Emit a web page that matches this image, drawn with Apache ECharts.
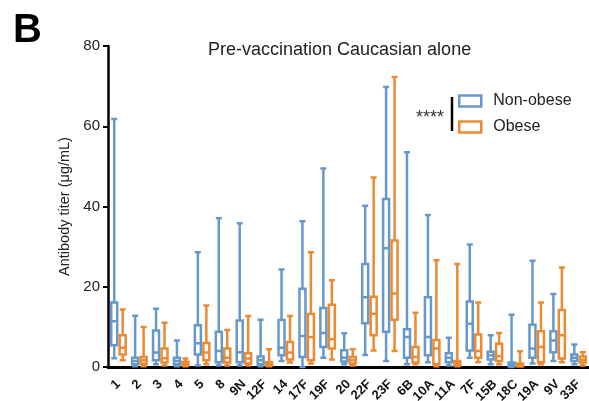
<!DOCTYPE html>
<html>
<head>
<meta charset="utf-8">
<script src="https://cdn.jsdelivr.net/npm/echarts@6/dist/echarts.min.js"></script>
<style>
  html, body { margin: 0; padding: 0; background: #fff; }
  #chart { width: 589px; height: 401px; }
</style>
</head>
<body>
<div id="chart"></div>
<script>
// serotypes on the x axis
var serotypes = ["1", "2", "3", "4", "5", "8", "9N", "12F", "14", "17F", "19F", "20",
  "22F", "23F", "6B", "10A", "11A", "7F", "15B", "18C", "19A", "9V", "33F"];

// [min, Q1, median, Q3, max]
var nonObese = [
  [2.2, 5.4, 11.4, 16.1, 61.8],
  [0.2, 0.7, 1.5, 2.3, 12.8],
  [0.7, 1.7, 3.6, 9.1, 14.5],
  [0.2, 0.7, 1.5, 2.3, 6.6],
  [0.4, 3.1, 5.9, 10.4, 28.6],
  [0.4, 1.2, 4.0, 8.8, 37.1],
  [0.4, 1.2, 3.7, 11.6, 35.8],
  [0.2, 0.7, 1.7, 2.6, 11.8],
  [1.5, 2.9, 4.8, 11.7, 24.3],
  [0.0, 2.5, 7.7, 19.5, 36.3],
  [2.3, 5.0, 8.5, 14.7, 49.5],
  [0.7, 1.4, 2.3, 4.2, 8.4],
  [3.0, 10.9, 17.4, 25.7, 40.2],
  [1.5, 8.8, 29.6, 41.9, 69.8],
  [0.7, 2.3, 7.5, 9.4, 53.5],
  [1.2, 2.9, 7.5, 17.4, 37.9],
  [0.4, 1.2, 2.3, 3.4, 7.3],
  [2.3, 4.1, 10.8, 16.3, 30.5],
  [0.7, 1.9, 2.9, 3.8, 7.9],
  [0.0, 0.2, 0.6, 1.1, 13.0],
  [0.9, 2.3, 4.6, 10.5, 26.5],
  [1.5, 3.7, 6.6, 8.9, 18.2],
  [0.7, 1.5, 2.3, 3.1, 5.6]
];

var obese = [
  [1.7, 3.1, 4.8, 7.9, 14.3],
  [0.2, 0.8, 1.7, 2.5, 10.0],
  [0.4, 1.1, 2.2, 4.6, 11.0],
  [0.2, 0.4, 0.9, 1.3, 2.1],
  [0.7, 1.7, 3.6, 6.0, 15.3],
  [0.4, 1.1, 2.3, 4.6, 9.2],
  [0.4, 0.9, 2.1, 3.4, 12.7],
  [0.2, 0.4, 0.9, 1.2, 4.4],
  [1.1, 1.9, 3.6, 6.2, 12.7],
  [0.9, 1.7, 7.5, 13.2, 28.6],
  [1.9, 4.6, 6.9, 15.5, 21.6],
  [0.4, 0.9, 1.7, 2.5, 4.4],
  [4.1, 7.9, 13.3, 17.5, 47.2],
  [4.0, 11.8, 18.3, 31.5, 72.3],
  [0.7, 1.1, 2.5, 5.0, 13.5],
  [0.2, 0.7, 4.6, 6.7, 26.6],
  [0.2, 0.4, 0.9, 1.5, 25.7],
  [1.2, 2.3, 4.0, 8.1, 16.1],
  [0.7, 1.5, 2.7, 5.8, 8.5],
  [0.1, 0.2, 0.5, 0.9, 3.9],
  [0.7, 1.2, 5.0, 8.9, 16.1],
  [1.2, 2.1, 7.9, 14.2, 24.8],
  [0.4, 1.1, 1.8, 2.6, 3.7]
];

var yTicks = { min: 0, max: 80, interval: 20 };

var blue = "#6798cb";
var orange = "#ec8a34";
var font = "Liberation Sans, Arial, sans-serif";

var chart = echarts.init(document.getElementById("chart"));
chart.setOption({
  animation: false,
  title: {
    text: "Pre-vaccination Caucasian alone",
    left: 203,
    top: 36,
    textStyle: { color: "#222", fontSize: 18, fontWeight: "normal", fontFamily: font }
  },
  legend: {
    orient: "vertical",
    left: 458,
    top: 93,
    padding: 0,
    itemWidth: 22,
    itemHeight: 11,
    itemGap: 10,
    icon: "rect",
    textStyle: { color: "#222", fontSize: 16, fontFamily: font, padding: [0, 0, 0, 7] },
    data: [
      { name: "Non-obese", itemStyle: { color: "#fff", borderColor: blue, borderWidth: 2.5 } },
      { name: "Obese", itemStyle: { color: "#fff", borderColor: orange, borderWidth: 2.5 } }
    ]
  },
  graphic: [
    {
      type: "text",
      left: 13,
      top: 11,
      style: { text: "B", fontSize: 40, fontWeight: "bold", fontFamily: font, fill: "#000" }
    },
    {
      type: "text",
      left: 416,
      top: 109,
      style: { text: "****", fontSize: 18, fill: "#333", fontFamily: font }
    },
    {
      type: "line",
      shape: { x1: 452, y1: 97, x2: 452, y2: 131 },
      style: { stroke: "#000", lineWidth: 2.5 }
    }
  ],
  grid: {
    left: 108,
    right: 0,
    top: 46,
    bottom: 34,
    containLabel: false,
    outerBoundsMode: "none"
  },
  xAxis: {
    type: "category",
    data: serotypes,
    axisLine: { lineStyle: { color: "#000", width: 3 } },
    axisTick: { alignWithLabel: true, length: 6, lineStyle: { color: "#000", width: 2.5 } },
    axisLabel: {
      rotate: 45,
      interval: 0,
      margin: 15,
      color: "#111",
      fontSize: 13,
      fontWeight: "bold",
      fontFamily: font
    },
    splitLine: { show: false }
  },
  yAxis: {
    type: "value",
    min: yTicks.min,
    max: yTicks.max,
    interval: yTicks.interval,
    name: "Antibody titer (μg/mL)",
    nameLocation: "middle",
    nameGap: 30,
    nameTextStyle: { color: "#222", fontSize: 14.5, fontFamily: font },
    axisLine: { show: true, lineStyle: { color: "#000", width: 2.5 } },
    axisTick: { show: true, length: 5, lineStyle: { color: "#000", width: 2 } },
    axisLabel: { color: "#222", fontSize: 15, margin: 8, fontFamily: font },
    splitLine: { show: false }
  },
  series: [
    {
      name: "Non-obese",
      type: "boxplot",
      data: nonObese,
      boxWidth: [6, 6],
      itemStyle: { color: "#fff", borderColor: blue, borderWidth: 2.5 }
    },
    {
      name: "Obese",
      type: "boxplot",
      data: obese,
      boxWidth: [6, 6],
      itemStyle: { color: "#fff", borderColor: orange, borderWidth: 2.5 }
    }
  ]
});
</script>
</body>
</html>
